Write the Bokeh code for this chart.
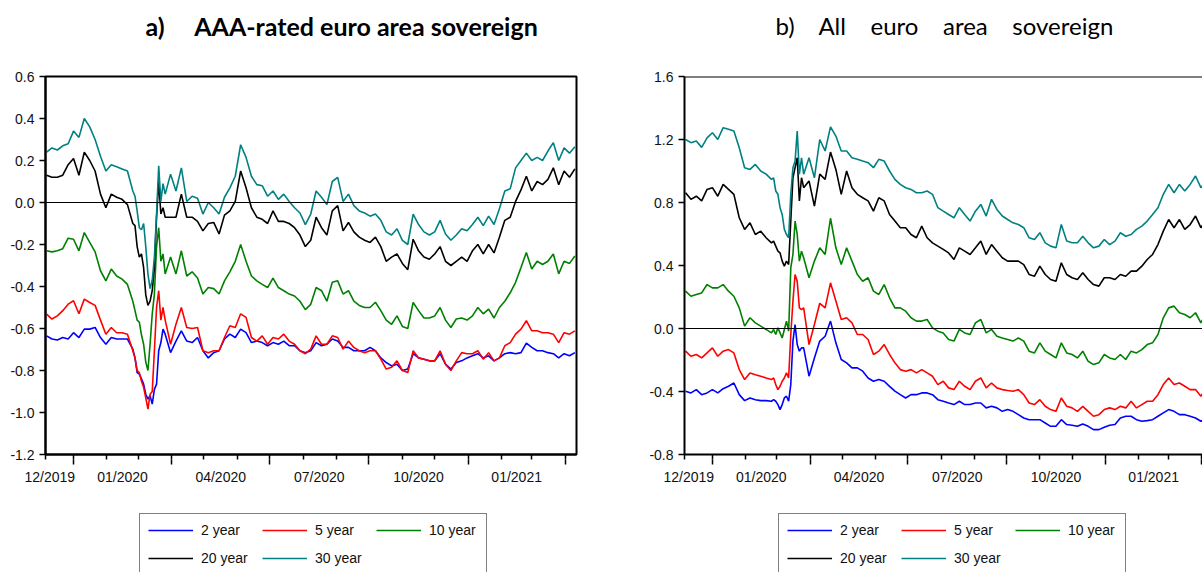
import pandas as pd
from bokeh.plotting import figure
from bokeh.layouts import row, column
from bokeh.models import (Range1d, LinearAxis, FixedTicker, PrintfTickFormatter, Span,
                          Legend, LegendItem, Label)
from bokeh.embed import file_html
from bokeh.resources import INLINE

# ---------------- data ----------------
# observation dates, in days from 1 January 2020
DAYS = ([-25, -20, -15, -10, -5, 0, 5, 10, 15, 20, 25, 30, 35, 40, 45, 50]
        + [55, 57, 59, 61, 63, 65, 67, 69, 71, 73, 75, 77, 79, 81, 83, 85]
        + list(range(90, 466, 5)))

SERIES = ["2 year", "5 year", "10 year", "20 year", "30 year"]
COLORS = ["#0000FF", "#FF0000", "#008000", "#000000", "#008080"]

# a) AAA-rated euro area sovereign
AAA_2Y = [-0.635, -0.65, -0.655, -0.643, -0.65, -0.62, -0.643, -0.603, -0.603, -0.595, -0.643, -0.675, -0.643, -0.65, -0.65, -0.65,
          -0.698, -0.74, -0.81, -0.817, -0.84, -0.865, -0.913, -0.936, -0.92, -0.96, -0.89, -0.865, -0.706, -0.667, -0.603, -0.627,
          -0.715, -0.66, -0.611, -0.66, -0.667, -0.643, -0.706, -0.74,
          -0.715, -0.706, -0.65, -0.627, -0.643, -0.603, -0.62, -0.667,
          -0.66, -0.667, -0.682, -0.667, -0.675, -0.66, -0.682, -0.682,
          -0.706, -0.715, -0.706, -0.667, -0.682, -0.675, -0.65, -0.66,
          -0.69, -0.69, -0.706, -0.706, -0.706, -0.69, -0.706, -0.74,
          -0.762, -0.778, -0.77, -0.80, -0.793, -0.72, -0.74, -0.746,
          -0.754, -0.754, -0.72, -0.77, -0.793, -0.762, -0.754, -0.74,
          -0.73, -0.72, -0.74, -0.73, -0.754, -0.74, -0.72, -0.715,
          -0.72, -0.715, -0.67, -0.69, -0.706, -0.706, -0.715, -0.72,
          -0.74, -0.72, -0.73, -0.715]
AAA_5Y = [-0.532, -0.555, -0.54, -0.515, -0.484, -0.468, -0.53, -0.46, -0.476, -0.49, -0.56, -0.627, -0.595, -0.62, -0.62, -0.627,
          -0.706, -0.74, -0.80, -0.81, -0.85, -0.88, -0.93, -0.984, -0.913, -0.90, -0.706, -0.50, -0.42, -0.56, -0.50, -0.56,
          -0.675, -0.58, -0.50, -0.595, -0.60, -0.595, -0.706, -0.715,
          -0.706, -0.706, -0.643, -0.587, -0.595, -0.53, -0.547, -0.643,
          -0.66, -0.635, -0.675, -0.643, -0.65, -0.627, -0.66, -0.675,
          -0.706, -0.72, -0.698, -0.635, -0.675, -0.675, -0.635, -0.643,
          -0.698, -0.66, -0.69, -0.706, -0.715, -0.706, -0.706, -0.746,
          -0.793, -0.785, -0.754, -0.80, -0.81, -0.706, -0.74, -0.746,
          -0.754, -0.754, -0.706, -0.77, -0.80, -0.754, -0.715, -0.72,
          -0.72, -0.706, -0.746, -0.715, -0.754, -0.74, -0.682, -0.667,
          -0.627, -0.603, -0.563, -0.611, -0.611, -0.62, -0.62, -0.627,
          -0.667, -0.62, -0.627, -0.611]
AAA_10Y = [-0.23, -0.235, -0.23, -0.22, -0.17, -0.175, -0.23, -0.143, -0.19, -0.235, -0.325, -0.373, -0.317, -0.35, -0.365, -0.39,
           -0.47, -0.515, -0.56, -0.57, -0.63, -0.675, -0.76, -0.80, -0.675, -0.53, -0.436, -0.21, -0.12, -0.28, -0.245, -0.34,
           -0.26, -0.34, -0.23, -0.35, -0.33, -0.36, -0.436, -0.405,
           -0.41, -0.436, -0.373, -0.33, -0.28, -0.20, -0.28, -0.35,
           -0.373, -0.39, -0.405, -0.36, -0.405, -0.42, -0.436, -0.445,
           -0.47, -0.51, -0.485, -0.405, -0.42, -0.47, -0.38, -0.373,
           -0.436, -0.42, -0.47, -0.49, -0.50, -0.50, -0.475, -0.515,
           -0.56, -0.58, -0.54, -0.59, -0.60, -0.476, -0.515, -0.55,
           -0.55, -0.54, -0.50, -0.56, -0.595, -0.555, -0.55, -0.56,
           -0.54, -0.50, -0.53, -0.508, -0.55, -0.50, -0.47, -0.43,
           -0.38, -0.31, -0.238, -0.317, -0.28, -0.295, -0.28, -0.245,
           -0.34, -0.28, -0.29, -0.255]
AAA_20Y = [0.13, 0.12, 0.12, 0.13, 0.18, 0.21, 0.13, 0.24, 0.20, 0.15, 0.04, -0.025, 0.04, 0.025, 0.015, -0.01,
           -0.10, -0.11, -0.21, -0.26, -0.245, -0.31, -0.44, -0.49, -0.47, -0.42, -0.31, -0.07, 0.10, -0.055, -0.025, -0.07,
           -0.07, -0.07, 0.04, -0.07, -0.07, -0.09, -0.135, -0.10,
           -0.095, -0.15, -0.06, -0.04, 0.005, 0.15, 0.07, -0.025,
           -0.07, -0.08, -0.10, -0.04, -0.09, -0.09, -0.10, -0.12,
           -0.155, -0.21, -0.18, -0.07, -0.12, -0.155, -0.04, -0.015,
           -0.135, -0.095, -0.14, -0.165, -0.18, -0.19, -0.165, -0.21,
           -0.28, -0.26, -0.245, -0.29, -0.32, -0.175, -0.23, -0.26,
           -0.27, -0.245, -0.21, -0.28, -0.30, -0.28, -0.26, -0.28,
           -0.23, -0.20, -0.245, -0.20, -0.24, -0.165, -0.085, -0.07,
           0.005, 0.06, 0.125, 0.055, 0.10, 0.085, 0.11, 0.165,
           0.085, 0.15, 0.12, 0.16]
AAA_30Y = [0.24, 0.26, 0.25, 0.27, 0.28, 0.34, 0.31, 0.40, 0.36, 0.30, 0.22, 0.15, 0.18, 0.17, 0.16, 0.15,
           0.055, 0.03, -0.04, -0.12, -0.13, -0.10, -0.21, -0.34, -0.41, -0.37, -0.26, -0.055, 0.175, 0.005, 0.09, 0.04,
           0.135, 0.055, 0.165, 0.005, 0.03, 0.02, -0.055, 0.0,
           -0.025, -0.055, 0.025, 0.07, 0.125, 0.275, 0.215, 0.125,
           0.085, 0.08, 0.03, 0.055, 0.015, 0.04, 0.005, -0.025,
           -0.05, -0.105, -0.055, 0.055, 0.025, -0.01, 0.1, 0.12,
           0.005, 0.04, -0.015, -0.04, -0.05, -0.065, -0.055, -0.085,
           -0.14, -0.155, -0.125, -0.18, -0.2, -0.055, -0.105, -0.14,
           -0.155, -0.14, -0.085, -0.15, -0.18, -0.155, -0.125, -0.135,
           -0.105, -0.07, -0.11, -0.065, -0.105, -0.03, 0.055, 0.065,
           0.165, 0.2, 0.235, 0.2, 0.215, 0.2, 0.245, 0.285,
           0.2, 0.26, 0.235, 0.265]

# b) All euro area sovereign
ALL_2Y = [-0.398, -0.409, -0.388, -0.42, -0.409, -0.388, -0.409, -0.382, -0.367, -0.346, -0.42, -0.458, -0.441, -0.452, -0.458, -0.458,
          -0.462, -0.452, -0.462, -0.483, -0.515, -0.483, -0.441, -0.43, -0.462, -0.356, -0.08, 0.025, -0.102, -0.144, -0.123, -0.123,
          -0.303, -0.187, -0.08, -0.049, 0.047, -0.091, -0.197, -0.218,
          -0.25, -0.25, -0.271, -0.314, -0.335, -0.324, -0.335, -0.367,
          -0.398, -0.42, -0.441, -0.42, -0.42, -0.409, -0.409, -0.42,
          -0.452, -0.462, -0.473, -0.483, -0.462, -0.483, -0.483, -0.473,
          -0.473, -0.504, -0.494, -0.504, -0.526, -0.515, -0.526, -0.547,
          -0.568, -0.579, -0.579, -0.579, -0.60, -0.621, -0.621, -0.579,
          -0.61, -0.614, -0.621, -0.606, -0.621, -0.642, -0.642, -0.627,
          -0.614, -0.61, -0.568, -0.557, -0.557, -0.579, -0.589, -0.585,
          -0.579, -0.557, -0.536, -0.515, -0.526, -0.547, -0.547, -0.557,
          -0.568, -0.589, -0.568, -0.57]
ALL_5Y = [-0.144, -0.176, -0.165, -0.187, -0.155, -0.123, -0.176, -0.144, -0.134, -0.155, -0.261, -0.324, -0.282, -0.293, -0.303, -0.314,
          -0.324, -0.314, -0.356, -0.388, -0.367, -0.335, -0.314, -0.282, -0.314, -0.038, 0.173, 0.343, 0.30, 0.131, 0.12, 0.131,
          -0.102, 0.025, 0.16, 0.131, 0.29, 0.174, 0.057, 0.068,
          0.036, -0.038, -0.038, -0.07, -0.165, -0.144, -0.102, -0.165,
          -0.218, -0.261, -0.271, -0.261, -0.282, -0.261, -0.282, -0.303,
          -0.356, -0.335, -0.377, -0.388, -0.335, -0.367, -0.388, -0.335,
          -0.314, -0.377, -0.346, -0.377, -0.388, -0.394, -0.398, -0.388,
          -0.42, -0.473, -0.483, -0.452, -0.494, -0.515, -0.526, -0.441,
          -0.494, -0.504, -0.526, -0.494, -0.526, -0.557, -0.547, -0.515,
          -0.504, -0.515, -0.494, -0.504, -0.462, -0.504, -0.483, -0.462,
          -0.462, -0.42, -0.356, -0.314, -0.356, -0.346, -0.367, -0.388,
          -0.388, -0.43, -0.377, -0.37]
ALL_10Y = [0.237, 0.205, 0.216, 0.226, 0.279, 0.258, 0.258, 0.279, 0.237, 0.205, 0.131, 0.015, 0.068, 0.036, 0.015, -0.006,
           -0.028, -0.006, -0.038, 0.004, -0.028, -0.06, -0.006, 0.047, -0.017, 0.385, 0.47, 0.682, 0.597, 0.428, 0.491, 0.449,
           0.322, 0.428, 0.512, 0.47, 0.70, 0.512, 0.406, 0.512,
           0.428, 0.343, 0.30, 0.322, 0.237, 0.216, 0.279, 0.195,
           0.131, 0.131, 0.11, 0.068, 0.047, 0.047, 0.057, 0.004,
           -0.017, -0.028, -0.07, -0.08, -0.006, -0.028, -0.038, 0.036,
           0.057, -0.028, -0.006, -0.049, -0.06, -0.07, -0.08, -0.06,
           -0.08, -0.144, -0.155, -0.091, -0.144, -0.165, -0.187, -0.091,
           -0.155, -0.165, -0.187, -0.144, -0.208, -0.229, -0.218, -0.165,
           -0.187, -0.197, -0.165, -0.197, -0.144, -0.155, -0.134, -0.102,
           -0.091, -0.038, 0.068, 0.131, 0.142, 0.10, 0.089, 0.068,
           0.10, 0.036, 0.10, 0.10]
ALL_20Y = [0.862, 0.82, 0.84, 0.81, 0.883, 0.894, 0.84, 0.915, 0.883, 0.852, 0.703, 0.629, 0.671, 0.597, 0.618, 0.576,
           0.544, 0.555, 0.523, 0.491, 0.48, 0.428, 0.396, 0.428, 0.406, 0.682, 0.957, 1.021, 1.084, 0.81, 0.957, 0.894,
           0.937, 0.777, 0.98, 0.947, 1.12, 1.01, 0.852, 1.0,
           0.894, 0.852, 0.83, 0.81, 0.745, 0.83, 0.81, 0.724,
           0.682, 0.64, 0.64, 0.597, 0.576, 0.65, 0.576, 0.544,
           0.523, 0.502, 0.48, 0.438, 0.512, 0.491, 0.47, 0.512,
           0.555, 0.47, 0.533, 0.491, 0.449, 0.428, 0.428, 0.428,
           0.406, 0.343, 0.332, 0.396, 0.343, 0.311, 0.30, 0.417,
           0.343, 0.322, 0.311, 0.354, 0.311, 0.279, 0.269, 0.322,
           0.322, 0.311, 0.343, 0.332, 0.364, 0.364, 0.396, 0.438,
           0.47, 0.533, 0.618, 0.692, 0.64, 0.692, 0.629, 0.66,
           0.714, 0.64, 0.692, 0.69]
ALL_30Y = [1.20, 1.18, 1.19, 1.15, 1.21, 1.243, 1.20, 1.275, 1.265, 1.254, 1.148, 1.021, 1.01, 1.042, 1.0, 0.98,
           0.947, 0.957, 0.873, 0.852, 0.767, 0.724, 0.629, 0.597, 0.576, 0.852, 1.021, 1.063, 1.254, 0.98, 1.084, 0.98,
           1.084, 0.957, 1.20, 1.127, 1.28, 1.222, 1.127, 1.127,
           1.084, 1.074, 1.063, 1.053, 1.021, 1.074, 1.063, 1.0,
           0.947, 0.915, 0.894, 0.883, 0.862, 0.862, 0.873, 0.852,
           0.767, 0.745, 0.724, 0.703, 0.767, 0.724, 0.682, 0.745,
           0.788, 0.714, 0.82, 0.756, 0.714, 0.692, 0.671, 0.66,
           0.64, 0.576, 0.565, 0.608, 0.544, 0.523, 0.512, 0.66,
           0.555, 0.544, 0.544, 0.586, 0.544, 0.512, 0.523, 0.565,
           0.533, 0.555, 0.608, 0.586, 0.597, 0.629, 0.65, 0.682,
           0.724, 0.767, 0.852, 0.915, 0.862, 0.915, 0.873, 0.915,
           0.968, 0.894, 0.937, 0.95]

LEFT_YTICKS = [-1.2, -1.0, -0.8, -0.6, -0.4, -0.2, 0.0, 0.2, 0.4, 0.6]
RIGHT_YTICKS = [-0.8, -0.4, 0.0, 0.4, 0.8, 1.2, 1.6]
X_LABELS = ["12/2019", "01/2020", "04/2020", "07/2020", "10/2020", "01/2021"]
NB = "\u00a0"
TITLE_A = "a)" + NB * 5 + "AAA-rated euro area sovereign"
TITLE_B = "b)" + NB * 4 + "All" + NB * 4 + "euro" + NB * 4 + "area" + NB * 4 + "sovereign"

# ---------------- axis ticks (calendar) ----------------
ORIGIN = pd.Timestamp("2020-01-01")
MONTH_TICKS = [-26] + [(d - ORIGIN).days for d in pd.date_range("2020-01-01", "2021-04-01", freq="MS")]
QUARTER_TICKS = [(d - ORIGIN).days for d in pd.date_range("2020-01-01", "2021-04-01", freq="QS")]
LABEL_POS = [-22.0] + [(a + b) / 2.0 for a, b in zip(QUARTER_TICKS[:-1], QUARTER_TICKS[1:])]

FONT = "Liberation Sans"
W_LEFT, W_RIGHT = 646, 556
H_TITLE, H_MAIN, H_LEG = 60, 440, 72


def blank(width, height, xr=None, yr=None):
    f = figure(width=width, height=height,
               x_range=xr if xr is not None else Range1d(0, width),
               y_range=yr if yr is not None else Range1d(0, height),
               x_axis_type=None, y_axis_type=None, output_backend="svg", toolbar_location=None,
               min_border_left=0, min_border_right=0, min_border_top=0, min_border_bottom=0)
    f.outline_line_color = None
    f.background_fill_color = "white"
    f.border_fill_color = "white"
    return f


def title_fig(width, text, x0, style, size):
    f = blank(width, H_TITLE)
    f.add_layout(Label(x=x0, y=H_TITLE - 25, text=text, text_font="Lato",
                       text_font_style=style, text_font_size=size, text_color="black",
                       text_align="left", text_baseline="alphabetic"))
    return f


def legend_fig(width, x0, values):
    # the series are drawn here only to give the legend its line samples;
    # the ranges keep them out of view
    f = blank(width, H_LEG, Range1d(1000, 1001), Range1d(1000, 1001))
    items = []
    for name, col, vals in zip(SERIES, COLORS, values):
        r = f.line(DAYS, vals, line_color=col, line_width=1.6)
        items.append(LegendItem(label=name, renderers=[r]))
    leg = Legend(items=items, location=(x0, -3), orientation="horizontal", ncols=3,
                 label_text_font=FONT, label_text_font_size="14px", label_text_color="#111111",
                 label_standoff=8, glyph_width=45, glyph_height=16, label_height=16,
                 label_width=49, padding=8, spacing=12, margin=0,
                 border_line_color="black", border_line_width=1,
                 background_fill_color="white", background_fill_alpha=1)
    f.add_layout(leg, "center")
    return f


def make_panel(values, yticks, x_end, width, min_left, min_right, boxed):
    p = figure(width=width, height=H_MAIN, x_range=Range1d(-26, x_end),
               y_range=Range1d(yticks[0], yticks[-1]),
               x_axis_type=None, y_axis_type=None, output_backend="svg",
               toolbar_location=None, min_border_left=min_left, min_border_right=min_right,
               min_border_top=16, min_border_bottom=46)
    p.background_fill_color = "white"
    p.border_fill_color = "white"
    if boxed:
        p.outline_line_color = "black"
        p.outline_line_width = 2
        p.outline_line_alpha = 1
    else:
        p.outline_line_color = None
        p.add_layout(Span(location=yticks[-1], dimension="width",
                          line_color="black", line_width=2))

    yax = LinearAxis(ticker=FixedTicker(ticks=yticks, minor_ticks=[]),
                     formatter=PrintfTickFormatter(format="%.1f"))
    yax.axis_line_width = 2
    yax.axis_line_color = "black"
    yax.major_tick_out = 6
    yax.major_tick_in = 0
    yax.major_tick_line_width = 1.5
    yax.major_tick_line_color = "black"
    yax.major_label_text_font = FONT
    yax.major_label_text_font_size = "14px"
    yax.major_label_text_color = "#111111"
    yax.major_label_standoff = 5
    p.add_layout(yax, "left")

    # x axis: month ticks next to the frame (no labels)
    tax = LinearAxis(ticker=FixedTicker(ticks=[], minor_ticks=MONTH_TICKS))
    tax.axis_line_width = 2
    tax.axis_line_color = "black"
    tax.major_tick_out = 0
    tax.major_tick_in = 0
    tax.major_label_standoff = 0
    tax.minor_tick_out = 5
    tax.minor_tick_in = 0
    tax.minor_tick_line_width = 1.5
    tax.minor_tick_line_color = "black"
    p.add_layout(tax, "below")

    # x axis: quarter tick extension + period labels
    lax = LinearAxis(ticker=FixedTicker(ticks=LABEL_POS, minor_ticks=QUARTER_TICKS),
                     major_label_overrides=dict(zip(LABEL_POS, X_LABELS)))
    lax.axis_line_color = None
    lax.major_tick_line_color = None
    lax.major_tick_out = 0
    lax.major_tick_in = 0
    lax.minor_tick_out = 5
    lax.minor_tick_in = 0
    lax.minor_tick_line_width = 1.5
    lax.minor_tick_line_color = "black"
    lax.major_label_text_font = FONT
    lax.major_label_text_font_size = "14px"
    lax.major_label_text_color = "#111111"
    lax.major_label_standoff = 4
    p.add_layout(lax, "below")

    p.add_layout(Span(location=0, dimension="width", line_color="black", line_width=1.2))

    for col, vals in zip(COLORS, values):
        p.line(DAYS, vals, line_color=col, line_width=1.6)
    return p


AAA = [AAA_2Y, AAA_5Y, AAA_10Y, AAA_20Y, AAA_30Y]
ALL = [ALL_2Y, ALL_5Y, ALL_10Y, ALL_20Y, ALL_30Y]

left = make_panel(AAA, LEFT_YTICKS, 466.5, W_LEFT, 45, 70, True)
right = make_panel(ALL, RIGHT_YTICKS, 456.5, W_RIGHT, 37, 0, False)

layout = column(
    row(title_fig(W_LEFT, TITLE_A, 145, "bold", "25px"),
        title_fig(W_RIGHT, TITLE_B, 129, "normal", "24px")),
    row(left, right),
    row(legend_fig(W_LEFT, 139, AAA), legend_fig(W_RIGHT, 132, ALL)),
)
open("out.html", "w").write(file_html(layout, INLINE))
